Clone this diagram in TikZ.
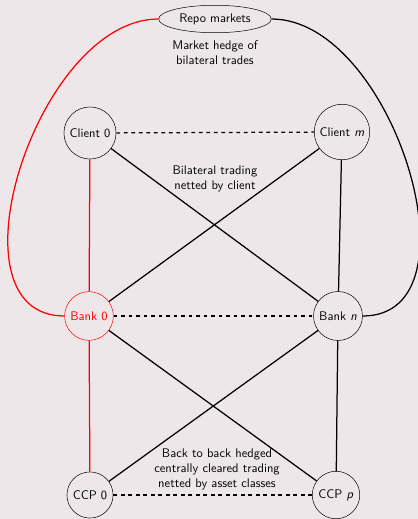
\documentclass[tikz,border=0pt]{standalone}
\usepackage{amssymb, amsmath}
\usepackage{tikz}
\usetikzlibrary{shapes.geometric}
\definecolor{bgpink}{RGB}{238,231,234}

\begin{document}
\begin{tikzpicture}[font=\sffamily,
  party/.style={draw, circle},
  note/.style={align=center},
  link/.style={line width=1pt}]
\begin{scope}[x=0.8pt, y=-0.8pt]
\fill[bgpink](0,0)rectangle(418,519);
\useasboundingbox(0,0)rectangle(418,519);

\node[draw, ellipse](repo) at (215,19) {Repo markets};
\node[note](hedge) at (215,53) {Market hedge of\\bilateral trades};

\node[party](client0) at (90,133) {Client 0};
\node[party](clientm) at (342,132) {Client \textit{m}};
\node[party, red](bank0) at (89,316) {Bank 0};
\node[party](bankn) at (338,316) {Bank \textit{n}};
\node[party](ccp0) at (90,495) {CCP 0};
\node[party](ccpp) at (336,495) {CCP \textit{p}};

\node[note](bilat) at (215,179) {Bilateral trading\\netted by client};
\node[note](cleared) at (217,469) {Back to back hedged\\centrally cleared trading\\netted by asset classes};

% clients
\draw[link, dashed](client0)to(clientm);
\draw[link](client0)to(bankn);
\draw[link](clientm)to(bank0);
\draw[link](clientm)to(bankn);
\draw[link, red](client0)to(bank0);

% banks
\draw[link, dashed](bank0)to(bankn);
\draw[link, red](bank0)to(ccp0);
\draw[link](bank0)to(ccpp);
\draw[link](bankn)to(ccp0);
\draw[link](bankn)to(ccpp);

% ccps
\draw[link, dashed](ccp0)to(ccpp);

% repo hedge
\draw[link, red](repo.west)to[out=180, in=180](bank0.west);
\draw[link](repo.east)to[out=0, in=0](bankn.east);

\end{scope}
\end{tikzpicture}
\end{document}
